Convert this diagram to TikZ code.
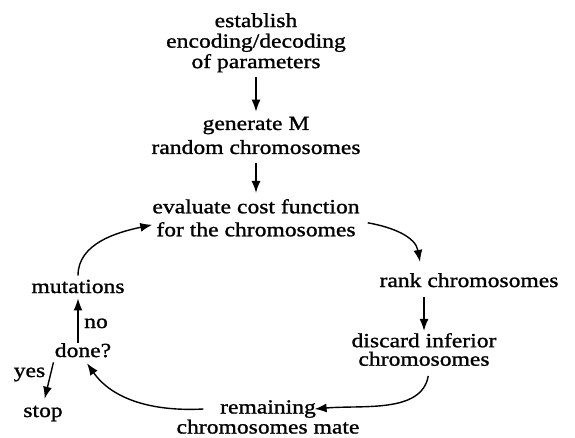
\documentclass[tikz,border=0pt]{standalone}
\usepackage{fontspec}
\setmainfont[FakeStretch=1.18,FakeBold=1.2]{Liberation Serif}
\usetikzlibrary{arrows.meta}

\begin{document}
\begin{tikzpicture}[x=1pt,y=1pt]
\tikzstyle{every node}+=[inner sep=0pt]
\tikzstyle{lbl}=[font=\fontsize{20}{20.5}\selectfont, align=center]
\tikzstyle{arr}=[black, line width=1.4pt, -{Latex[length=12pt,width=9pt]}]
\useasboundingbox (0,0) rectangle (575,-437);
\node [lbl] (establish) at (256,-42.8) {establish\\encoding/decoding\\of parameters};
\node [lbl] (generate) at (256,-135.5) {generate M\\[3.5pt]random chromosomes};
\node [lbl] (evaluate) at (256,-217.8) {evaluate cost function\\[2.5pt]for the chromosomes};
\node [lbl, anchor=base] (rank) at (469,-287) {rank chromosomes};
\node [lbl] (discard) at (424,-349.5) {discard inferior\\[-2pt]chromosomes};
\node [lbl] (remaining) at (268,-417) {remaining\\[-0.5pt]chromosomes mate};
\node [lbl, anchor=base] (done) at (83,-357) {done?};
\node [lbl, anchor=base] (mutations) at (78,-293) {mutations};
\node [lbl, anchor=base] (stop) at (43,-417) {stop};
\node [lbl, anchor=base] (no) at (96,-328) {no};
\node [lbl, anchor=base] (yes) at (29.5,-377) {yes};
\draw [arr, shorten <=4pt, shorten >=5pt] (establish.south) -- (generate.north);
\draw [arr, shorten <=9pt, shorten >=6pt] (generate.south) -- (evaluate.north);
\draw [arr] ([shift={(8pt,-5pt)}]evaluate.east) to [out=-10, in=100] ([xshift=-49pt,yshift=11pt]rank.north);
\draw [arr, shorten <=10pt, shorten >=2pt] (rank.south -| discard.north) -- (discard.north);
\draw [arr, shorten <=10pt] ([xshift=6pt]discard.south) to [out=-100, in=5] ([shift={(-45pt,8pt)}]remaining.east);
\draw [arr, shorten >=7pt] ([shift={(27pt,8pt)}]remaining.west) to [out=183, in=-55] (done.south);
\draw [arr, shorten >=5pt] (done.north -| mutations.south) -- (mutations.south);
\draw [arr, shorten <=5pt, shorten >=7pt] (done.south west) -- (stop.north);
\draw [arr, shorten <=4pt] (mutations.north) to [out=90, in=192] ([yshift=-7pt]evaluate.west);
\end{tikzpicture}
\end{document}
